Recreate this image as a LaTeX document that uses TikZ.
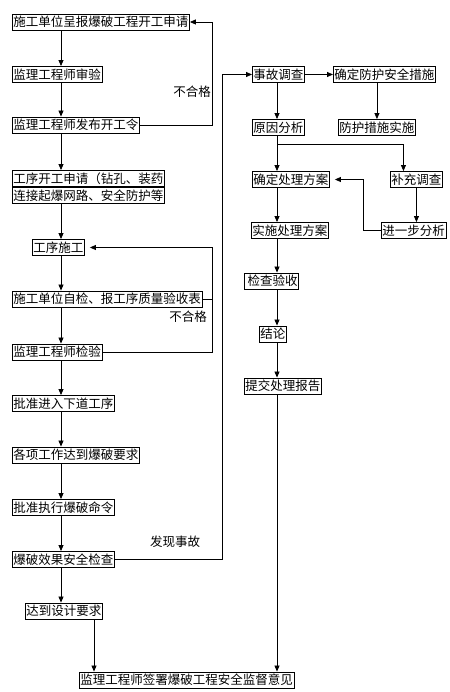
\documentclass[tikz,border=0pt]{standalone}
\usepackage{fontspec}
\setmainfont{Noto Sans CJK SC}
\usetikzlibrary{positioning, calc, arrows.meta}

\begin{document}
\begin{tikzpicture}[x=1pt, y=-1pt,
    box/.style={draw, line width=0.9pt, anchor=west, font=\fontsize{12.5}{14}\selectfont,
        inner xsep=1pt, inner ysep=0pt, minimum height=16pt},
    arr/.style={line width=0.8pt, -{Triangle[length=6pt,width=5pt]}},
    ln/.style={line width=0.8pt},
    lbl/.style={font=\fontsize{12.5}{14}\selectfont}]

        \useasboundingbox (0,0) rectangle (449,692);

        % column guides
        \coordinate (lc) at (61,0);
        \coordinate (rc) at (277,0);
        \coordinate (fb) at (212,0);
        \coordinate (acc) at (222,0);

        % left column
        \node[box] (n1) at (12,22) {施工单位呈报爆破工程开工申请};
        \node[box] (n2) at (12,74.5) {监理工程师审验};
        \node[box] (n3) at (12,125) {监理工程师发布开工令};
        \node[box] (n4a) at (12,178.5) {工序开工申请（钻孔、装药};
        \node[box, anchor=north west] (n4b) at (n4a.south west) {连接起爆网路、安全防护等};
        \node[box] (n5) at (32,247.5) {工序施工};
        \node[box] (n6) at (12,299) {施工单位自检、报工序质量验收表};
        \node[box] (n7) at (12,352) {监理工程师检验};
        \node[box] (n8) at (12,403.5) {批准进入下道工序};
        \node[box] (n9) at (12,455) {各项工作达到爆破要求};
        \node[box] (n10) at (12,507.5) {批准执行爆破命令};
        \node[box] (n11) at (12,559.5) {爆破效果安全检查};
        \node[box] (n12) at (25,611) {达到设计要求};
        \node[box] (n13) at (79,680) {监理工程师签署爆破工程安全监督意见};

        % right column
        \node[box] (r1) at (252,74.5) {事故调查};
        \node[box] (r2) at (333,74.5) {确定防护安全措施};
        \node[box] (r3) at (252,127.5) {原因分析};
        \node[box] (r4) at (338,127.5) {防护措施实施};
        \node[box] (r5) at (252,179.5) {确定处理方案};
        \node[box] (r6) at (390,179.5) {补充调查};
        \node[box] (r7) at (381,230.5) {进一步分析};
        \node[box] (r8) at (251,230.5) {实施处理方案};
        \node[box] (r9) at (244,281) {\,检查验收};
        \node[box] (r10) at (259,334) {结论};
        \node[box] (r11) at (244,386) {提交处理报告};

        % left column arrows
        \draw[arr] (n1.south -| lc) -- (n2.north -| lc);
        \draw[arr] (n2.south -| lc) -- (n3.north -| lc);
        \draw[arr] (n3.south -| lc) -- (n4a.north -| lc);
        \draw[arr] (n4b.south -| lc) -- (n5.north -| lc);
        \draw[arr] (n5.south -| lc) -- (n6.north -| lc);
        \draw[arr] (n6.south -| lc) -- (n7.north -| lc);
        \draw[arr] (n7.south -| lc) -- (n8.north -| lc);
        \draw[arr] (n8.south -| lc) -- (n9.north -| lc);
        \draw[arr] (n9.south -| lc) -- (n10.north -| lc);
        \draw[arr] (n10.south -| lc) -- (n11.north -| lc);
        \draw[arr] (n11.south -| lc) -- (n12.north -| lc);
        \draw[arr] (n12.south -| 94,0) -- (n13.north -| 94,0);

        % 不合格 loops
        \draw[arr] (n3.east) -- (n3.east -| fb) |- (n1.east);
        \node[lbl] (ng1) at (192,92) {不合格};
        \draw[arr, shorten >=5pt] (n7.east) -- (n7.east -| fb) |- (n5.east);
        \draw[ln] (n6.east) -- (n6.east -| fb);
        \node[lbl] (ng2) at (188,317) {不合格};

        % 发现事故
        \draw[arr] (n11.east) -- (n11.east -| acc) |- (r1.west);
        \node[lbl] (acc1) at (175,542) {发现事故};

        % right column arrows
        \draw[arr] (r1.east) -- (r2.west);
        \draw[arr] (r1.south -| rc) -- (r3.north -| rc);
        \draw[arr] (r2.south -| r4.north) -- (r4.north);
        \coordinate (split) at (277,144);
        \draw[arr] (r3.south -| rc) -- (r5.north -| rc);
        \draw[arr] (split) -| ([xshift=-13pt]r6.north);
        \draw[arr] (r6.south) -- (r6.south |- r7.north);
        \draw[arr, shorten >=5pt] (r7.west) -- ++(-18,0) |- (r5.east);
        \draw[arr] (r5.south -| rc) -- (r8.north -| rc);
        \draw[arr] (r8.south -| rc) -- (r9.north -| rc);
        \draw[arr] (r9.south -| rc) -- (r10.north -| rc);
        \draw[arr] (r10.south -| rc) -- (r11.north -| rc);
        \draw[arr] (r11.south -| rc) -- (n13.north -| rc);

\end{tikzpicture}
\end{document}
